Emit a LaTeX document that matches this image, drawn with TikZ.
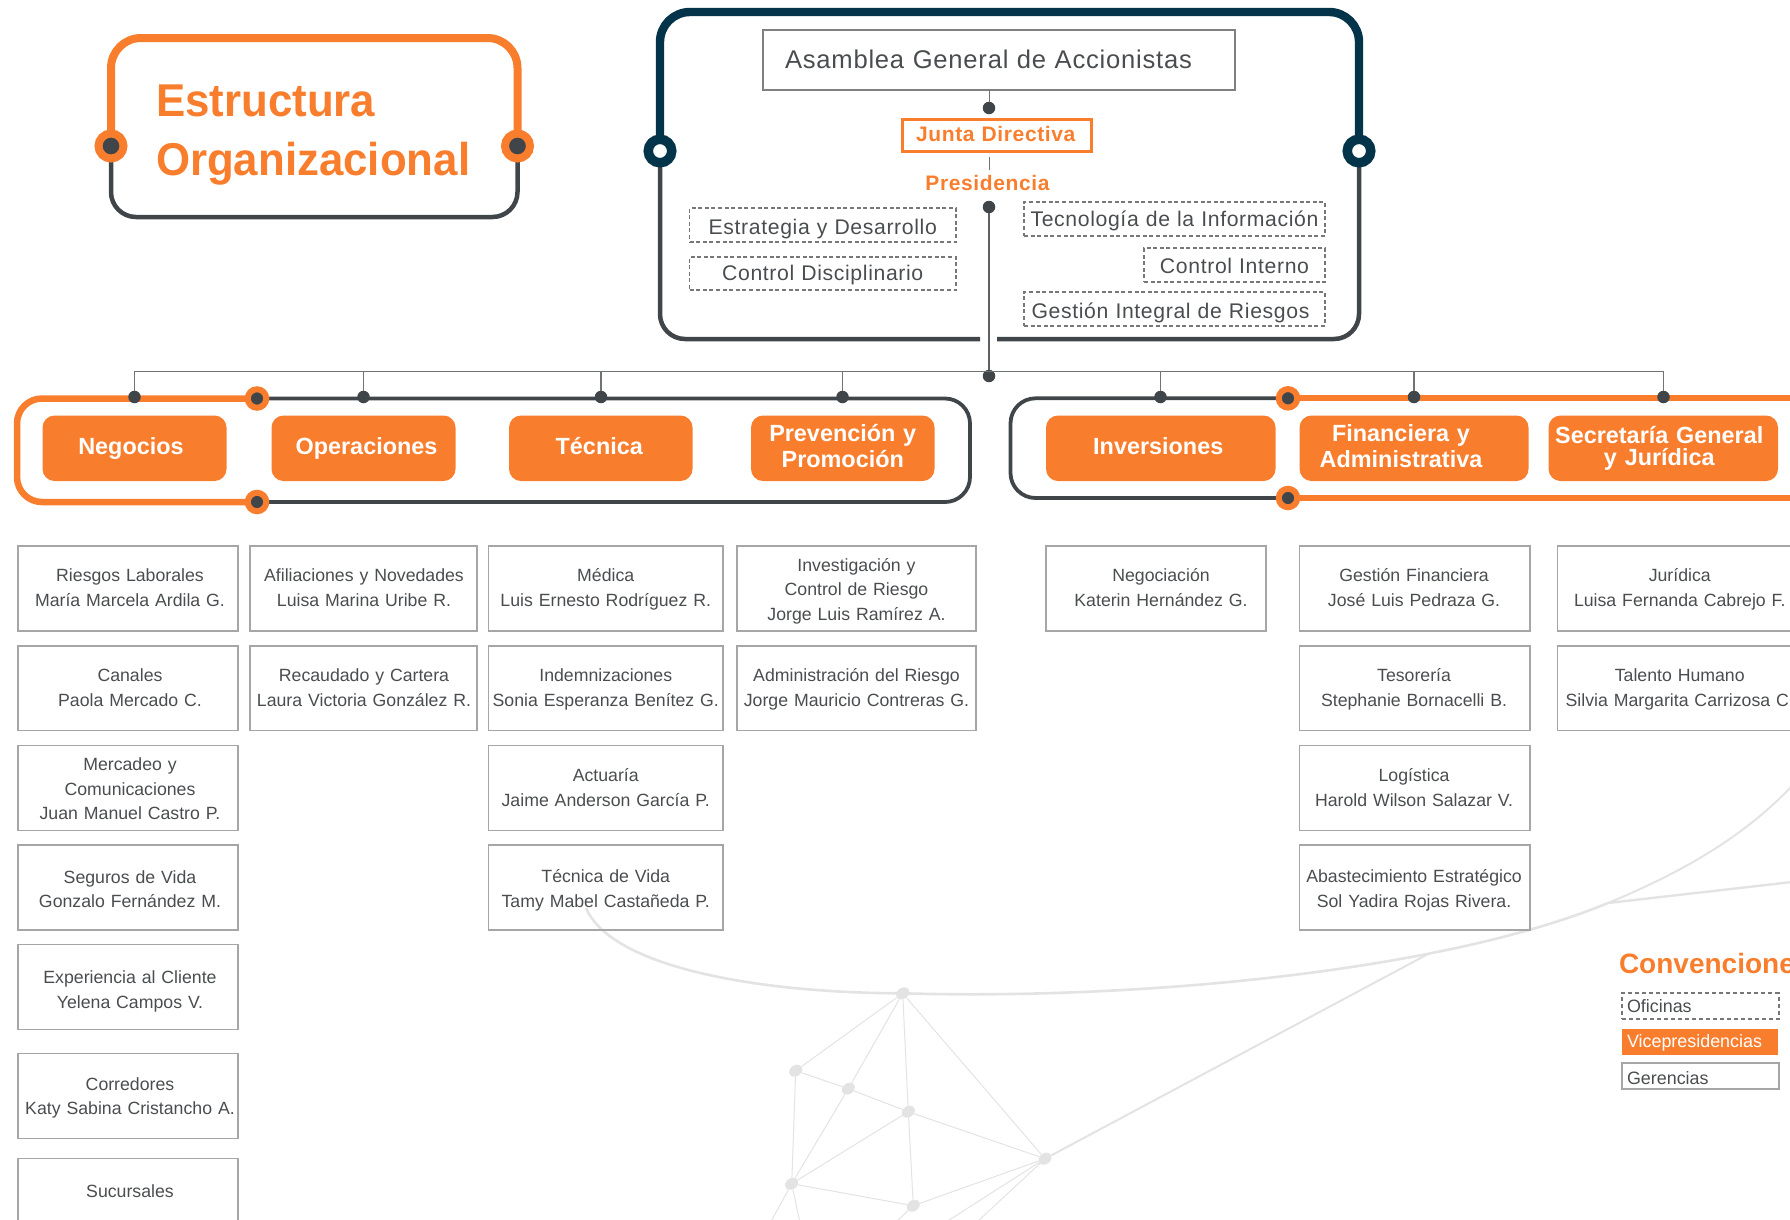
\documentclass[tikz,border=0pt]{standalone}
\usepackage{fontspec}
\usetikzlibrary{shapes.geometric}
\setmainfont{Liberation Sans}
\newfontfamily\spacedfont[LetterSpace=3]{Liberation Sans}
\newfontfamily\titlefont[FakeStretch=0.953]{Liberation Sans}
\definecolor{brand}{HTML}{F87E2E}
\definecolor{dark}{HTML}{404549}
\definecolor{navy}{HTML}{03344A}
\definecolor{ink}{HTML}{4A4D50}
\definecolor{gbox}{HTML}{A6A6A6}
\definecolor{asmb}{HTML}{808080}
\definecolor{dashc}{HTML}{777777}
\definecolor{thin}{HTML}{707376}
\definecolor{mesh}{HTML}{E3E3E3}
\tikzset{
  bxbase/.style={anchor=south west,inner sep=0pt,outer sep=0pt,align=center,text=ink},
  ger/.style={draw=gbox,line width=1.8pt,font=\fontsize{17.7}{24.7}\selectfont},
  ofi/.style={draw=dashc,line width=1.6pt,dash pattern=on 4pt off 2.6pt,font=\spacedfont\fontsize{21.2}{26}\selectfont},
  btn/.style={fill=brand,rounded corners=12pt,text=white,font=\bfseries\fontsize{23.4}{26}\selectfont},
  asm/.style={draw=asmb,line width=2pt,font=\spacedfont\fontsize{25.6}{30}\selectfont},
  hd/.style={text=brand,font=\spacedfont\bfseries\fontsize{21}{26}\selectfont},
  leg/.style={align=left,font=\fontsize{17.9}{22}\selectfont},
  ttl/.style={text=brand,align=left,font=\titlefont\bfseries\fontsize{46}{59}\selectfont},
  dotn/.style={circle,fill=dark,minimum size=12.5pt,inner sep=0pt,outer sep=0pt},
  jbig/.style={circle,draw=brand,line width=8pt,fill=dark,minimum size=25pt,inner sep=0pt,outer sep=0pt},
  jnavy/.style={circle,draw=navy,line width=9.5pt,fill=white,minimum size=23.5pt,inner sep=0pt,outer sep=0pt},
  jmid/.style={circle,draw=brand,line width=6pt,fill=dark,minimum size=18.5pt,inner sep=0pt,outer sep=0pt},
  conn/.style={draw=thin,line width=1.1pt},
  meshnode/.style={ellipse,fill=mesh,minimum width=14pt,minimum height=11pt,inner sep=0pt,rotate=35},
  meshline/.style={draw=mesh,line width=1pt},
  meshcurve/.style={draw=mesh,line width=2.6pt}
}
% [style]{name}{x1}{y1}{x2}{y2}{dx}{first baseline}{text}
\newcommand\bx[9][]{%
  \pgfmathsetmacro\bxw{#5-#3}%
  \pgfmathsetmacro\bxh{#8-#4}%
  \pgfmathsetmacro\bxd{#6-#8}%
  \pgfmathsetmacro\bxs{2*#7}%
  \node[bxbase,#1,text width=\bxw pt,text height=\bxh pt,text depth=\bxd pt,
        execute at begin node={\advance\leftskip by \bxs pt\relax}] (#2) at (#3,#6) {#9};%
}
\begin{document}
\begin{tikzpicture}[x=1pt,y=-1pt]
\useasboundingbox (0,0) rectangle (1790,1219);
\clip (0,0) rectangle (1790,1219);

% ---- background mesh
\node[meshnode] (ma) at (902.7,993.3) {};
\node[meshnode] (mb) at (795.7,1070.7) {};
\node[meshnode] (mc) at (848.3,1088.7) {};
\node[meshnode] (md) at (908.3,1111.7) {};
\node[meshnode] (me) at (1045,1158.7) {};
\node[meshnode] (mf) at (791.7,1183.7) {};
\node[meshnode] (mg) at (913.3,1205.7) {};
\coordinate (f1) at (770.7,1222);
\coordinate (f2) at (799.8,1222);
\coordinate (g1) at (896,1222);
\coordinate (e1) at (946,1222);
\coordinate (e2) at (977,1222);
\coordinate (cs) at (586,908);
\coordinate (cb) at (1608,903);
\coordinate (ce) at (1792,786);
\coordinate (be) at (1792,882);
\coordinate (cj) at (1430,953);
\draw[meshline] (ma)--(mb) (ma)--(mc) (ma)--(md) (ma)--(me) (mb)--(mc) (mc)--(md) (md)--(me)
  (mb)--(mf) (mc)--(mf) (md)--(mf) (md)--(mg) (mf)--(mg) (mg)--(me)
  (mf)--(f1) (mf)--(f2) (mg)--(g1) (me)--(e1) (me)--(e2);
\draw[meshcurve] (cs) .. controls (612,968) and (760,993) .. (ma.center);
\draw[meshcurve] (ma.center) .. controls (1130,1000) and (1438,973) .. (cb);
\draw[meshcurve,line width=2pt] (cb) .. controls (1695,867) and (1750,830) .. (ce);
\draw[meshcurve,line width=2.4pt] (cb) -- (be);
\draw[meshcurve,line width=2pt] (me) -- (cj);

% ---- title frame
\coordinate (tl0) at (111,146);
\coordinate (tr0) at (517.5,146);
\draw[draw=brand,line width=8pt,rounded corners=30pt] (tl0) -- (111,38) -- (517.5,38) -- (tr0);
\draw[draw=dark,line width=4.5pt,rounded corners=25pt] (tl0) -- (111,217) -- (517.5,217) -- (tr0);
\node[jbig] (tl) at (tl0) {};
\node[jbig] (tr) at (tr0) {};
\bx[ttl]{title}{156}{70}{500}{190}{0}{116}{Estructura\\Organizacional}

% ---- governance frame
\coordinate (gl0) at (660,151);
\coordinate (gr0) at (1359,151);
\draw[draw=navy,line width=8.4pt,rounded corners=30pt] (gl0) -- (660,12) -- (1359,12) -- (gr0);
\draw[draw=dark,line width=4.5pt,rounded corners=25pt] (gl0) -- (660,339) -- (980,339);
\draw[draw=dark,line width=4.5pt,rounded corners=25pt] (997,339) -- (1359,339) -- (gr0);
\node[jnavy] (gl) at (gl0) {};
\node[jnavy] (gr) at (gr0) {};

\bx[asm]{asamblea}{763}{30}{1235}{90}{-10.5}{68.5}{Asamblea General de Accionistas}
\node[dotn] (d0) at (989,108) {};
\draw[conn,line width=1pt] (asamblea.south -| d0) -- (d0);
\bx[hd,draw=brand,line width=3pt]{junta}{902}{119}{1091.5}{151}{-1}{141.7}{Junta Directiva}
\coordinate (p1) at (989,157);
\coordinate (p2) at (989,170);
\draw[conn,line width=1pt] (p1) -- (p2);
\bx[hd]{pres}{925}{170}{1050}{198}{0}{190}{Presidencia}
\node[dotn] (d1) at (989,207) {};
\node[dotn] (hub) at (989,376) {};
\draw[conn,line width=1.3pt,draw=dark!85] (d1) -- (hub);

\bx[ofi]{estr}{689.5}{208}{956}{242}{0}{234}{Estrategia y Desarrollo}
\bx[ofi]{cdis}{689.5}{257}{956}{290}{0}{280}{Control Disciplinario}
\bx[ofi]{tecn}{1024}{202}{1325}{236}{0}{226.7}{Tecnología de la Información}
\bx[ofi]{cint}{1144}{248}{1325}{282}{0}{273}{Control Interno}
\bx[ofi]{gest}{1024}{292}{1325}{326}{-4}{318}{Gestión Integral de Riesgos}

% ---- bands
\coordinate (b1t) at (257,398.5);
\coordinate (b1b) at (257,502);
\coordinate (b2t) at (1288,398.3);
\coordinate (b2b) at (1288,498);
\coordinate (b2te) at (1795,398.3);
\coordinate (b2be) at (1795,498);
\draw[draw=brand,line width=6.5pt,rounded corners=25pt] (b1t) -- (17,398.5) -- (17,502) -- (b1b);
\draw[draw=dark,line width=3.8pt,rounded corners=25pt] (b1t) -- (970,398.5) -- (970,502) -- (b1b);
\draw[draw=dark,line width=3.8pt,rounded corners=25pt] (b2t) -- (1010.5,398.3) -- (1010.5,498) -- (b2b);
\draw[draw=brand,line width=6pt] (b2t) -- (b2te);
\draw[draw=brand,line width=6pt] (b2b) -- (b2be);
\node[jmid] (j1) at (b1t) {};
\node[jmid] (j2) at (b1b) {};
\node[jmid] (j3) at (b2t) {};
\node[jmid] (j4) at (b2b) {};

% ---- bus
\coordinate (bus) at (989,371.5);
\node[dotn] (v1) at (134.5,397) {};
\node[dotn] (v2) at (363.5,397) {};
\node[dotn] (v3) at (601,397) {};
\node[dotn] (v4) at (842.5,397) {};
\node[dotn] (v5) at (1160.5,397) {};
\node[dotn] (v6) at (1414,397) {};
\node[dotn] (v7) at (1663.5,397) {};
\draw[conn] (v1) -- (v1 |- bus) -- (v7 |- bus) -- (v7);
\draw[conn] (v2) -- (v2 |- bus);
\draw[conn] (v3) -- (v3 |- bus);
\draw[conn] (v4) -- (v4 |- bus);
\draw[conn] (v5) -- (v5 |- bus);
\draw[conn] (v6) -- (v6 |- bus);

% ---- vice-presidencies
\bx[btn]{neg}{42.5}{415.5}{226.5}{481}{-3.5}{454}{Negocios}
\bx[btn]{ope}{271.5}{415.5}{455.5}{481}{3}{454}{Operaciones}
\bx[btn]{tec}{509}{415.5}{692.5}{481}{-1.5}{454}{Técnica}
\bx[btn]{pre}{751}{415.5}{934.5}{481}{0}{441}{Prevención y\\Promoción}
\bx[btn]{inv}{1046}{415.5}{1275.5}{481}{-2.5}{454}{Inversiones}
\bx[btn]{fin}{1299.5}{415.5}{1528.5}{481}{-13}{441}{Financiera y\\Administrativa}
\bx[btn,font=\bfseries\fontsize{23.4}{22.5}\selectfont]{sec}{1548.5}{415.5}{1778}{481}{-4}{443}{Secretaría General\\y Jurídica}

% ---- managements, column 1
\bx[ger]{a1}{18}{546}{238}{631}{2}{581.5}{Riesgos Laborales\\María Marcela Ardila G.}
\bx[ger]{a2}{18}{646}{238}{730.5}{2}{681.5}{Canales\\Paola Mercado C.}
\bx[ger]{a3}{18}{745.5}{238}{830.5}{2}{770.5}{Mercadeo y\\Comunicaciones\\Juan Manuel Castro P.}
\bx[ger]{a4}{18}{845}{238}{930}{2}{883.2}{Seguros de Vida\\Gonzalo Fernández M.}
\bx[ger]{a5}{18}{944.5}{238}{1029.5}{2}{983.5}{Experiencia al Cliente\\Yelena Campos V.}
\bx[ger]{a6}{18}{1053.5}{238}{1138.5}{2}{1090}{Corredores\\Katy Sabina Cristancho A.}
\bx[ger]{a7}{18}{1158.5}{238}{1243}{2}{1197}{Sucursales}
% column 2
\bx[ger]{b1}{250}{546}{477}{631}{0.5}{581.5}{Afiliaciones y Novedades\\Luisa Marina Uribe R.}
\bx[ger]{b2}{250}{646}{477}{730.5}{0.5}{681.5}{Recaudado y Cartera\\Laura Victoria González R.}
% column 3
\bx[ger]{c1}{488.5}{546}{723}{631}{0}{581.5}{Médica\\Luis Ernesto Rodríguez R.}
\bx[ger]{c2}{488.5}{646}{723}{730.5}{0}{681.5}{Indemnizaciones\\Sonia Esperanza Benítez G.}
\bx[ger]{c3}{488.5}{745.5}{723}{830.5}{0}{781.7}{Actuaría\\Jaime Anderson García P.}
\bx[ger]{c4}{488.5}{845}{723}{930}{0}{882.5}{Técnica de Vida\\Tamy Mabel Castañeda P.}
% column 4
\bx[ger]{e1n}{737}{546}{976}{631}{0}{571}{Investigación y\\Control de Riesgo\\Jorge Luis Ramírez A.}
\bx[ger]{e2n}{737}{646}{976}{730.5}{0}{681.5}{Administración del Riesgo\\Jorge Mauricio Contreras G.}
% column 5
\bx[ger]{g1n}{1046}{546}{1266}{631}{5}{581.5}{Negociación\\Katerin Hernández G.}
% column 6
\bx[ger]{h1}{1299.5}{546}{1530}{631}{-0.7}{581.5}{Gestión Financiera\\José Luis Pedraza G.}
\bx[ger]{h2}{1299.5}{646}{1530}{730.5}{-0.7}{681.5}{Tesorería\\Stephanie Bornacelli B.}
\bx[ger]{h3}{1299.5}{745.5}{1530}{830.5}{-0.7}{781.7}{Logística\\Harold Wilson Salazar V.}
\bx[ger]{h4}{1299.5}{845}{1530}{930}{-0.7}{882.5}{Abastecimiento Estratégico\\Sol Yadira Rojas Rivera.}
% column 7
\bx[ger]{k1}{1557.5}{546}{1802}{631}{0}{581.5}{Jurídica\\Luisa Fernanda Cabrejo F.}
\bx[ger]{k2}{1557.5}{646}{1802}{730.5}{0}{681.5}{Talento Humano\\Silvia Margarita Carrizosa C.}

% ---- legend
\bx[leg,text=brand,font=\bfseries\fontsize{28}{32}\selectfont]{conv}{1619}{945}{1830}{985}{0}{973}{Convenciones}
\bx[leg,ofi,font=\fontsize{17.9}{22}\selectfont,line width=1.8pt,dash pattern=on 4pt off 3pt]{lofi}{1622}{993}{1778.7}{1019}{2.5}{1012}{Oficinas}
\bx[leg,fill=brand,text=white]{lvic}{1622}{1029}{1778}{1055}{2.5}{1047}{Vicepresidencias}
\bx[leg,draw=gbox,line width=2pt]{lger}{1622}{1063}{1779}{1089}{2.5}{1084}{Gerencias}
\end{tikzpicture}
\end{document}
